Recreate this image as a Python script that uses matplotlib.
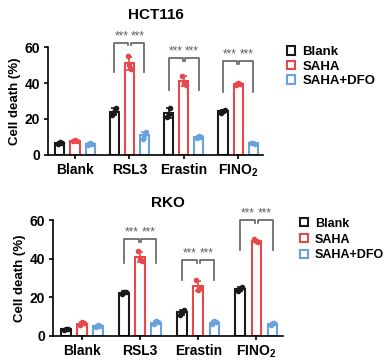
import numpy as np
import matplotlib
matplotlib.use('Agg')
import matplotlib.pyplot as plt
from matplotlib.patches import Patch

plt.rcParams['font.family'] = ['Liberation Sans', 'DejaVu Sans']
plt.rcParams['font.weight'] = 'bold'
plt.rcParams['mathtext.fontset'] = 'custom'
plt.rcParams['mathtext.rm'] = 'Liberation Sans:bold'
plt.rcParams['mathtext.bf'] = 'Liberation Sans:bold'

groups = ['Blank', 'RSL3', 'Erastin', r'FINO$_2$']
conditions = ['Blank', 'SAHA', 'SAHA+DFO']
colors = ['#1a1a1a', '#e8474c', '#6aa2dc']

# replicate values (cell death %), per group
hct116_blank = [[6.0, 7.0, 6.5], [22, 24, 26], [21, 23, 26], [23.5, 24.5, 25.0]]
hct116_saha = [[7.5, 8.2, 8.0], [55, 50, 48], [44, 40, 39], [39, 40, 39.5]]
hct116_dfo = [[5.5, 6.5, 6.0], [9, 11, 12.5], [9.5, 10.5, 10], [6.5, 6.8, 6.2]]
hct116_brackets = [None, 62.5, 54, 52]
hct116_legs = [None, 46, 36, 35]

rko_blank = [[3.0, 3.5, 3.8], [21.5, 22.5, 23], [11, 12.5, 13.5], [23.5, 24.5, 25.5]]
rko_saha = [[5.5, 7.0, 6.5], [44, 40, 39], [29, 24, 25], [50, 49, 48.5]]
rko_dfo = [[4.5, 5.5, 5.0], [6, 7.5, 7], [6, 7.5, 7], [5.5, 6.5, 6.5]]
rko_brackets = [None, 50, 39.5, 60]
rko_legs = [None, 38, 29, 44.5]

spacing = 3.6
bar_w = 0.6


def bracket(ax, x1, x2, top, leg, inner_left):
    c = '#606060'
    if inner_left:
        ys = [top - 1.5, top, top, leg]
    else:
        ys = [leg, top, top, top - 1.5]
    ax.plot([x1, x1, x2, x2], ys, color=c, lw=1.2, clip_on=False)
    ax.text((x1 + x2) / 2, top + 0.3, '***', ha='center', va='bottom',
            fontsize=8.5, color=c, fontweight='normal')


def panel(ax, title, data, tops, legs, tpad, leg_x, leg_y, leg_fs, leg_sp):
    for gi in range(len(groups)):
        for ci in range(3):
            vals = np.array(data[ci][gi])
            x = gi * spacing + (ci - 1)
            m, sd = vals.mean(), vals.std(ddof=1)
            ax.bar(x, m, width=bar_w, facecolor='white', edgecolor=colors[ci],
                   linewidth=1.5, zorder=2)
            ax.errorbar(x, m, yerr=sd, color=colors[ci], capsize=2.5,
                        elinewidth=1.2, capthick=1.2, zorder=3)
            ax.scatter(x + np.array([-0.12, 0, 0.12]), vals, s=9,
                       color=colors[ci], zorder=4)
        if tops[gi] is not None:
            c = gi * spacing
            bracket(ax, c - 1, c - 0.08, tops[gi], legs[gi], False)
            bracket(ax, c + 0.08, c + 1, tops[gi], legs[gi], True)
    ax.set_xlim(-1.8, 3 * spacing + 1.65)
    ax.set_ylim(0, 60)
    ax.set_yticks([0, 20, 40, 60])
    ax.set_xticks([i * spacing for i in range(len(groups))])
    ax.set_xticklabels(groups)
    ax.tick_params(axis='both', labelsize=10, width=1.2, length=3, pad=2.5)
    ax.spines['top'].set_visible(False)
    ax.spines['right'].set_visible(False)
    ax.spines['left'].set_linewidth(1.2)
    ax.spines['bottom'].set_linewidth(1.2)
    ax.set_ylabel('Cell death (%)', fontsize=9.5, fontweight='bold', labelpad=3)
    ax.set_title(title, fontsize=11, fontweight='bold', pad=tpad)
    handles = [Patch(facecolor='white', edgecolor=c, linewidth=1.5) for c in colors]
    ax.legend(handles, conditions, loc='upper left', bbox_to_anchor=(leg_x, leg_y),
              frameon=False, fontsize=leg_fs, handlelength=0.6, handleheight=0.6,
              handletextpad=0.6, labelspacing=leg_sp, borderaxespad=0, borderpad=0)


fig = plt.figure(figsize=(3.92, 3.62), dpi=100)
ax1 = fig.add_axes([0.122, 0.572, 0.549, 0.298])
ax2 = fig.add_axes([0.135, 0.072, 0.587, 0.320])
panel(ax1, 'HCT116', [hct116_blank, hct116_saha, hct116_dfo], hct116_brackets, hct116_legs,
      20, 1.11, 1.01, 9.5, 0.2)
panel(ax2, 'RKO', [rko_blank, rko_saha, rko_dfo], rko_brackets, rko_legs,
      9.5, 1.074, 1.02, 9, 0.3)

fig.savefig('out.png', dpi=100)
